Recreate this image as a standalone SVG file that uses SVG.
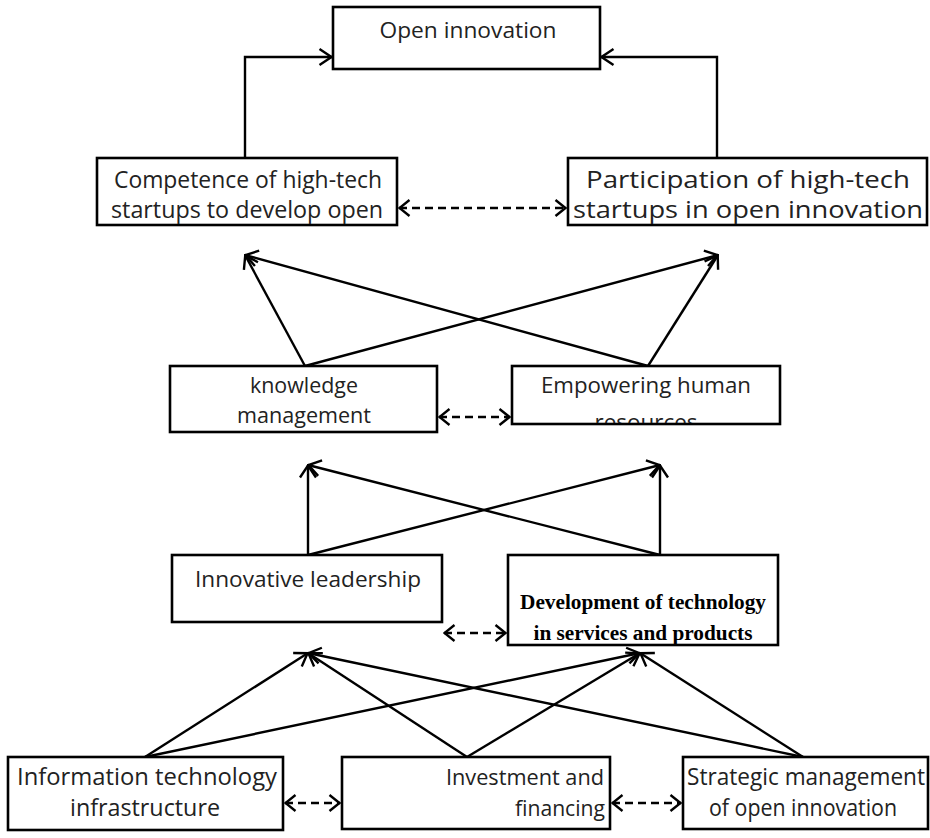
<svg xmlns="http://www.w3.org/2000/svg" width="930" height="838" viewBox="0 0 930 838">
<defs>
<marker id="arr" viewBox="0 0 16 20" refX="14.5" refY="10" markerWidth="16" markerHeight="20" markerUnits="userSpaceOnUse" orient="auto-start-reverse">
<path d="M2,2 L14,10 L2,18" fill="none" stroke="#000" stroke-width="2.4" stroke-linejoin="miter"/>
</marker>
<marker id="darr" viewBox="0 0 14 20" refX="12.5" refY="10" markerWidth="14" markerHeight="20" markerUnits="userSpaceOnUse" orient="auto-start-reverse">
<path d="M2,2 L12,10 L2,18" fill="none" stroke="#000" stroke-width="2.4"/>
</marker>
<style>
.box{fill:#fff;stroke:#000;stroke-width:2.6}
.t{font-family:"Open Sans","Liberation Sans",sans-serif;font-size:22px;fill:#222;text-anchor:middle}
.M{font-size:23px}
.b{font-family:"Liberation Serif",serif;font-size:20px;font-weight:bold;fill:#000;text-anchor:middle}
.c{fill:none;stroke:#000;stroke-width:2.4}
.d{fill:none;stroke:#000;stroke-width:2.5;stroke-dasharray:8,5}
</style>
<clipPath id="empclip"><rect x="513" y="367" width="266" height="56"/></clipPath>
</defs>
<rect width="930" height="838" fill="#fff"/>
<g id="connectors">
<path class="c" d="M245,157 V57 H332" marker-end="url(#arr)"/>
<path class="c" d="M717,157 V57 H601" marker-end="url(#arr)"/>
<path class="d" d="M399,208 H566" marker-start="url(#darr)" marker-end="url(#darr)"/>
<path class="c" d="M305,366 L245,255" marker-end="url(#arr)"/>
<path class="c" d="M305,366 L718,255" marker-end="url(#arr)"/>
<path class="c" d="M648,366 L245,255" marker-end="url(#arr)"/>
<path class="c" d="M648,366 L718,255" marker-end="url(#arr)"/>
<path class="d" d="M439,417 H510" marker-start="url(#darr)" marker-end="url(#darr)"/>
<path class="c" d="M308,555 L308,465" marker-end="url(#arr)"/>
<path class="c" d="M308,555 L660,465" marker-end="url(#arr)"/>
<path class="c" d="M660,555 L308,465" marker-end="url(#arr)"/>
<path class="c" d="M660,555 L660,465" marker-end="url(#arr)"/>
<path class="d" d="M444,633 H506" marker-start="url(#darr)" marker-end="url(#darr)"/>
<path class="c" d="M145,757 L308,653" marker-end="url(#arr)"/>
<path class="c" d="M145,757 L640,653" marker-end="url(#arr)"/>
<path class="c" d="M467,757 L308,653" marker-end="url(#arr)"/>
<path class="c" d="M467,757 L640,653" marker-end="url(#arr)"/>
<path class="c" d="M803,757 L308,653" marker-end="url(#arr)"/>
<path class="c" d="M803,757 L640,653" marker-end="url(#arr)"/>
<path class="d" d="M285,803 H340" marker-start="url(#darr)" marker-end="url(#darr)"/>
<path class="d" d="M612,803 H681" marker-start="url(#darr)" marker-end="url(#darr)"/>
</g>
<g id="open-innovation">
<rect class="box" x="333" y="7" width="267" height="62"/>
<text class="t" x="468" y="38" textLength="177" lengthAdjust="spacingAndGlyphs">Open innovation</text>
</g>
<g id="competence">
<rect class="box" x="97" y="158" width="300" height="67"/>
<text class="t M" x="248" y="188" textLength="268" lengthAdjust="spacingAndGlyphs">Competence of high-tech</text>
<text class="t M" x="247" y="218" textLength="272" lengthAdjust="spacingAndGlyphs">startups to develop open</text>
</g>
<g id="participation">
<rect class="box" x="568" y="158" width="359" height="67"/>
<text class="t M" x="748" y="188" textLength="324" lengthAdjust="spacingAndGlyphs">Participation of high-tech</text>
<text class="t M" x="748" y="218" textLength="350" lengthAdjust="spacingAndGlyphs">startups in open innovation</text>
</g>
<g id="knowledge">
<rect class="box" x="170" y="366" width="267" height="66"/>
<text class="t" x="304" y="393" textLength="108" lengthAdjust="spacingAndGlyphs">knowledge</text>
<text class="t" x="304" y="423" textLength="134" lengthAdjust="spacingAndGlyphs">management</text>
</g>
<g id="empowering">
<rect class="box" x="512" y="366" width="268" height="58"/>
<g clip-path="url(#empclip)">
<text class="t" x="646" y="393" textLength="210" lengthAdjust="spacingAndGlyphs">Empowering human</text>
<text class="t" x="646" y="430" textLength="103" lengthAdjust="spacingAndGlyphs">resources</text>
</g>
</g>
<g id="innovative-leadership">
<rect class="box" x="172" y="555" width="270" height="67"/>
<text class="t" x="308" y="587" textLength="226" lengthAdjust="spacingAndGlyphs">Innovative leadership</text>
</g>
<g id="development">
<rect class="box" x="508" y="555" width="270" height="90"/>
<text class="b" x="643" y="609" textLength="246" lengthAdjust="spacingAndGlyphs">Development of technology</text>
<text class="b" x="643" y="640" textLength="219" lengthAdjust="spacingAndGlyphs">in services and products</text>
</g>
<g id="it-infrastructure">
<rect class="box" x="8" y="757" width="275" height="73"/>
<text class="t M" x="147" y="785" textLength="260" lengthAdjust="spacingAndGlyphs">Information technology</text>
<text class="t M" x="145" y="816" textLength="150" lengthAdjust="spacingAndGlyphs">infrastructure</text>
</g>
<g id="investment">
<rect class="box" x="342" y="757" width="268" height="72"/>
<text class="t" x="604" y="785" style="text-anchor:end" textLength="158" lengthAdjust="spacingAndGlyphs">Investment and</text>
<text class="t" x="605" y="816" style="text-anchor:end" textLength="90" lengthAdjust="spacingAndGlyphs">financing</text>
</g>
<g id="strategic">
<rect class="box" x="683" y="757" width="245" height="72"/>
<text class="t M" x="806" y="785" textLength="238" lengthAdjust="spacingAndGlyphs">Strategic management</text>
<text class="t M" x="803" y="816" textLength="188" lengthAdjust="spacingAndGlyphs">of open innovation</text>
</g>
</svg>
